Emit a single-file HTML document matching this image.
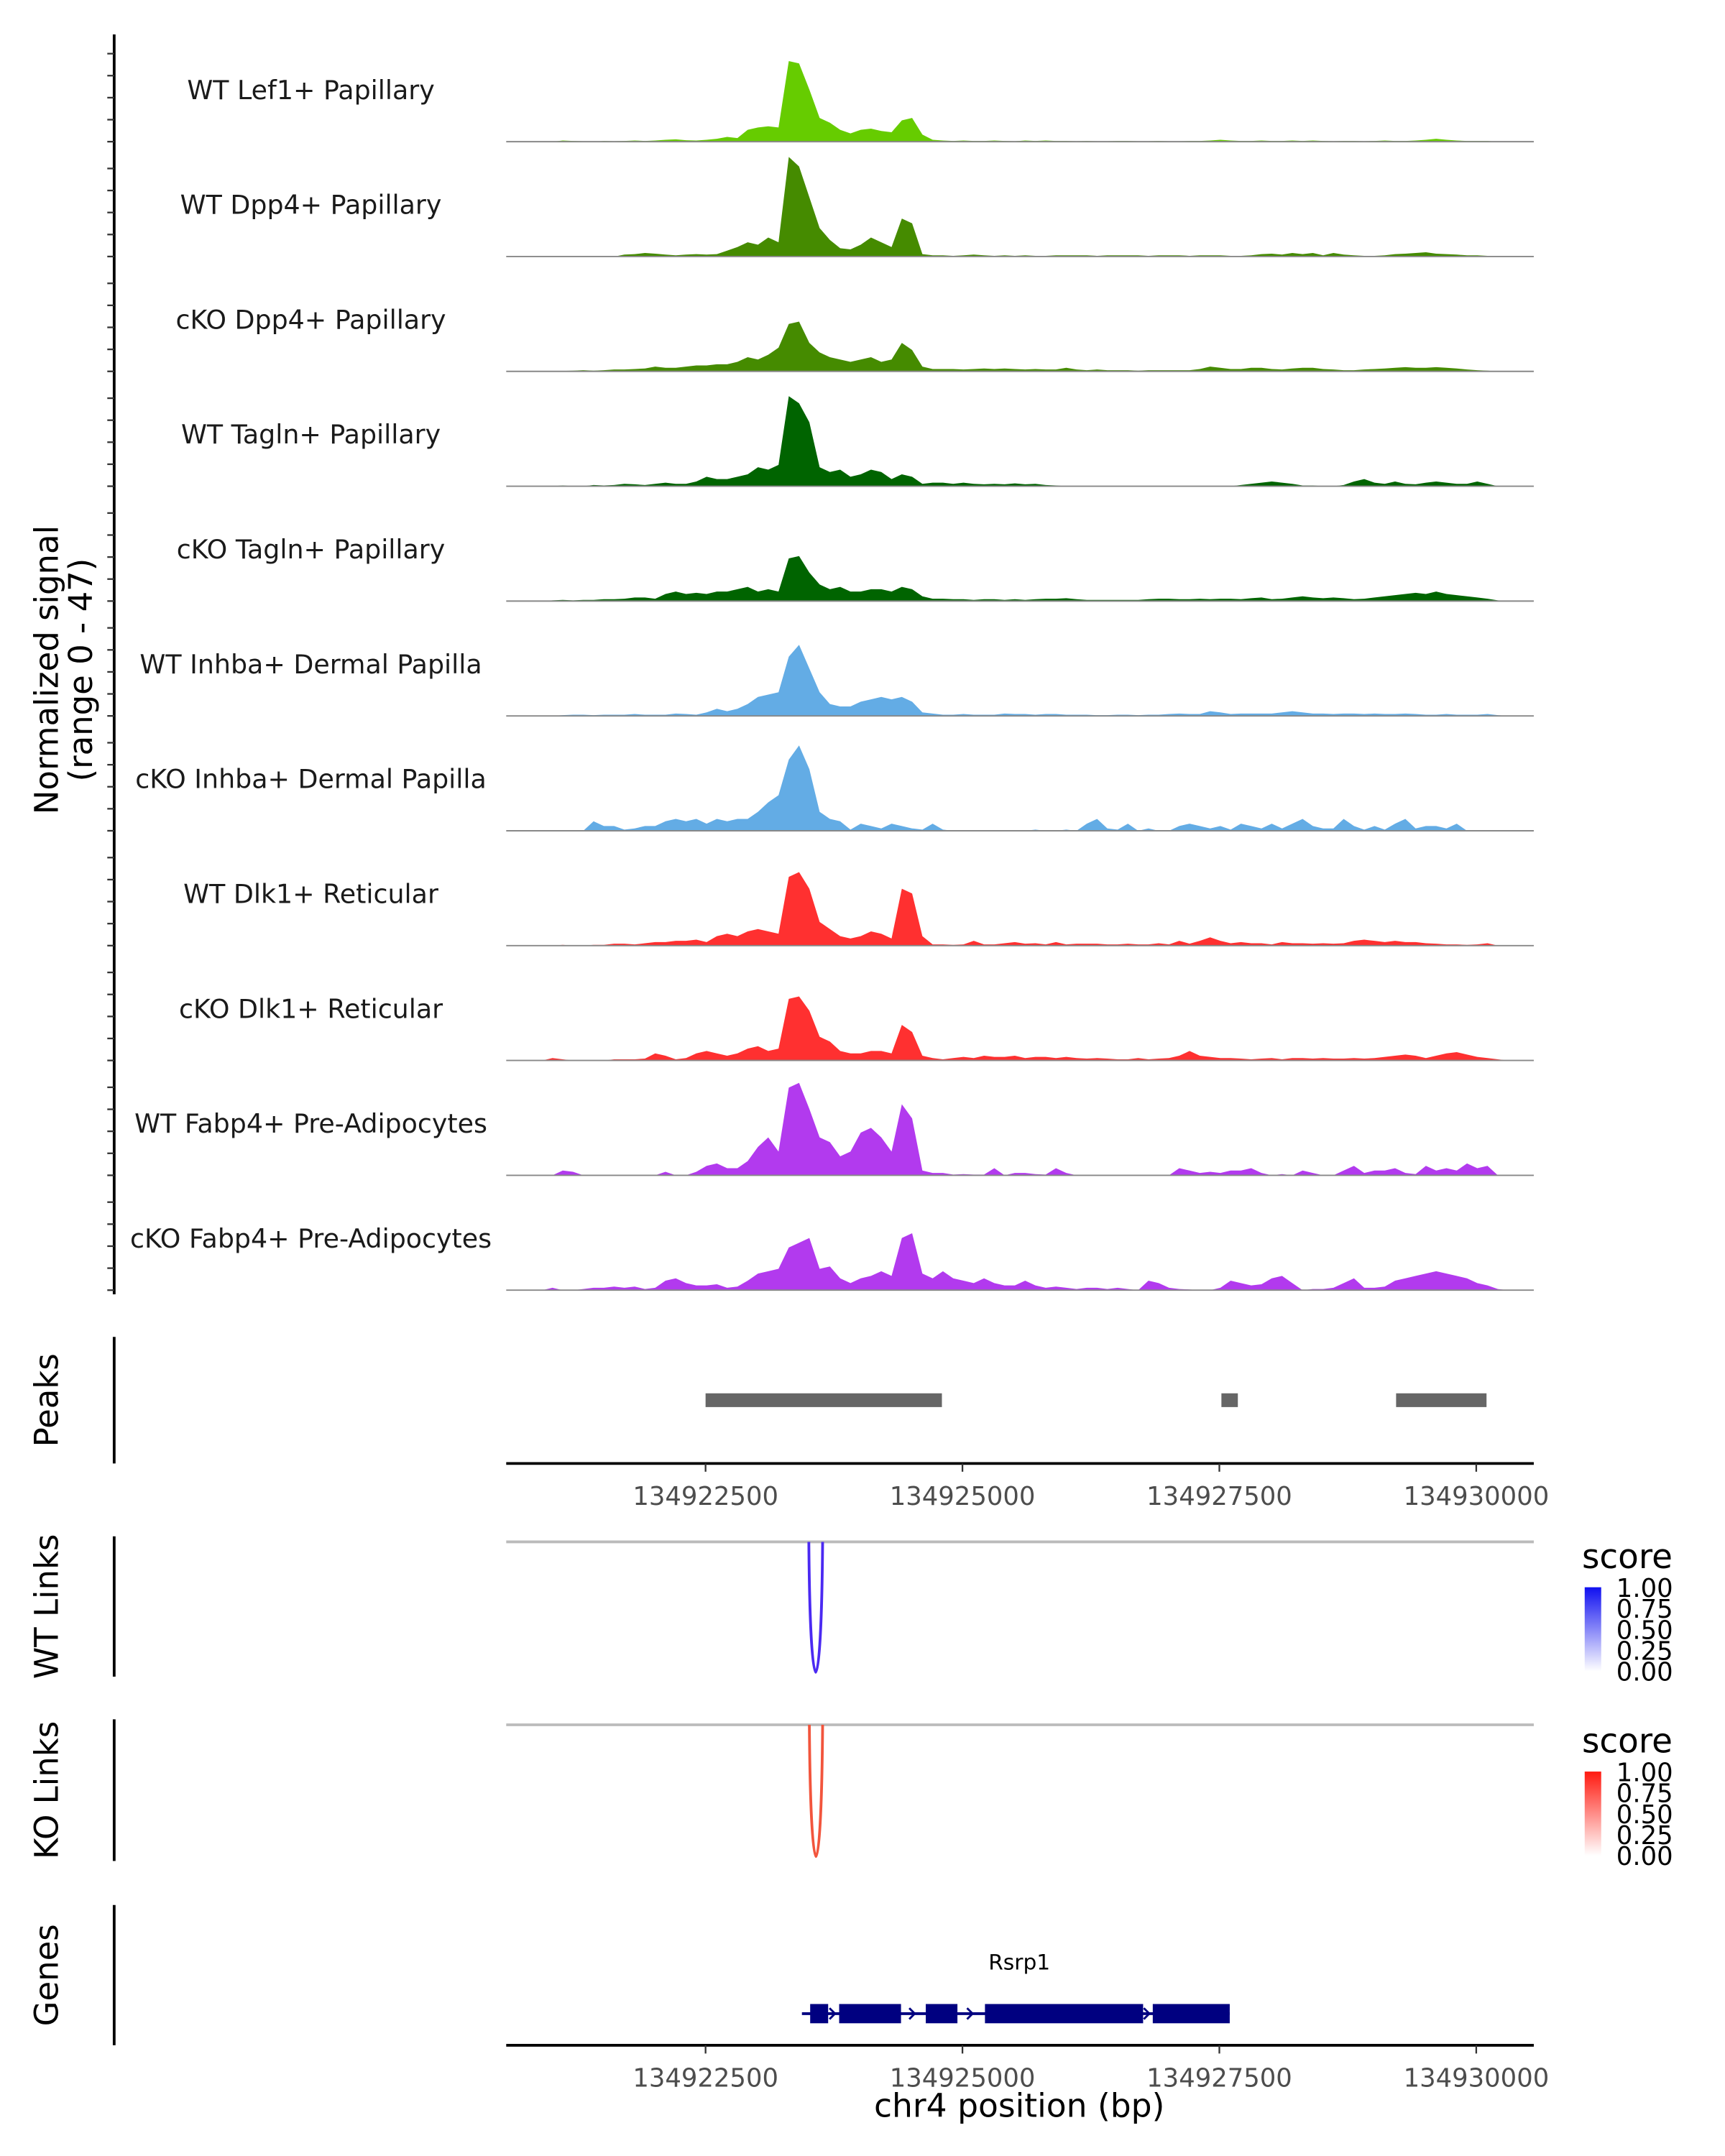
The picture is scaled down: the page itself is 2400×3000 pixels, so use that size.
<!DOCTYPE html>
<html><head><meta charset="utf-8"><style>
html,body{margin:0;padding:0;background:#fff;}
svg{display:block;font-family:"DejaVu Sans","Liberation Sans",sans-serif;}
</style></head><body>
<svg id="chart" width="2400" height="3000" viewBox="0 0 1254 1567.5" preserveAspectRatio="none" xmlns="http://www.w3.org/2000/svg">
<defs>
<linearGradient id="gBlue" x1="0" y1="1" x2="0" y2="0"><stop offset="0" stop-color="#ffffff"/><stop offset="1" stop-color="#1010f0"/></linearGradient>
<linearGradient id="gRed" x1="0" y1="1" x2="0" y2="0"><stop offset="0" stop-color="#ffffff"/><stop offset="1" stop-color="#ff1a10"/></linearGradient>
</defs>
<g id="tracks"></g>
<g id="rest"></g>
</svg>
<script>
const trackNames = ["WT Lef1+ Papillary","WT Dpp4+ Papillary","cKO Dpp4+ Papillary","WT Tagln+ Papillary","cKO Tagln+ Papillary","WT Inhba+ Dermal Papilla","cKO Inhba+ Dermal Papilla","WT Dlk1+ Reticular","cKO Dlk1+ Reticular","WT Fabp4+ Pre-Adipocytes","cKO Fabp4+ Pre-Adipocytes"];
const trackColors = ["#66cc00","#458b00","#458b00","#006400","#006400","#63ace5","#63ace5","#ff3030","#ff3030","#b23aee","#b23aee"];
const regionStart = 134920560, regionEnd = 134930560, binSize = 100;
const yMax = 47;
const xTicks = [134922500,134925000,134927500,134930000];
const peaks = [[134922500,134924800],[134927520,134927680],[134929220,134930100]];
const exons = [[134923518,134923693],[134923800,134924402],[134924643,134924951],[134925219,134926758],[134926852,134927601]];
const wtLink = [134923505, 134923639, 1.0];
const koLink = [134923510, 134923639, 0.9];
const legendTicks = ["1.00","0.75","0.50","0.25","0.00"];

const t1=[0,0,0,0,0,0.5,0.3,0.2,0,0.3,0.2,0.3,0.5,0.3,0.5,0.8,1,0.6,0.5,0.8,1.2,2,1.5,5,6,6.5,6,34,33,22,10,8,5,3.5,5,5.5,4.5,4,9,10,3,0.8,0.5,0.3,0.5,0.3,0.3,0.5,0.3,0.2,0.5,0.3,0.5,0.3,0.3,0.2,0.3,0.2,0.2,0.3,0.3,0.2,0.2,0.3,0.2,0.2,0.3,0.3,0.5,0.8,0.5,0.3,0.3,0.5,0.3,0.3,0.5,0.3,0.5,0.3,0.2,0.3,0.3,0.2,0.3,0.5,0.3,0.3,0.5,0.8,1.2,0.8,0.5,0.3,0.3,0.3,0,0,0,0];
const t2=[0,0,0,0,0,0,0,0,0,0,0,0.8,1,1.5,1.2,0.8,0.5,0.8,1,0.8,1,2.5,4,6,5,8,6,42,38,25,12,7,3.5,3,5,8,6,4,16,14,1,0.5,0.5,0.3,0.5,0.8,0.5,0.3,0.5,0.3,0.5,0.3,0.3,0.5,0.5,0.5,0.5,0.3,0.5,0.5,0.5,0.5,0.3,0.5,0.5,0.5,0.3,0.5,0.5,0.5,0.3,0.3,0.5,1,1.2,0.8,1.5,1,1.5,0.5,1.5,0.8,0.5,0.3,0.3,0.5,1,1.2,1.5,1.8,1.2,1,0.8,0.5,0.5,0.3,0,0,0,0];
const t3=[0,0,0,0,0,0.2,0.3,0.5,0.3,0.5,0.8,0.8,1,1.2,2,1.5,1.5,2,2.5,2.5,3,3,4,6,5,7,10,20,21,12,8,6,5,4,5,6,4,5,12,9,2,1,1,1,0.8,1,1.2,1,1.2,1,0.8,1,0.8,0.8,1.5,0.8,0.5,0.8,0.5,0.5,0.5,0.3,0.5,0.5,0.5,0.5,0.5,1,2,1.5,1,1,1.5,1.5,1,0.8,1.2,1.5,1.5,1,0.8,0.5,0.5,0.8,1,1.2,1.5,1.8,1.5,1.5,1.8,1.5,1.2,0.8,0.5,0.3,0,0,0,0];
const t4=[0,0,0,0,0,0.3,0,0,0.5,0.3,0.5,1,0.8,0.5,1,1.5,1,1,2,4,3,3,4,5,8,7,9,38,35,27,8,6,7,4,5,7,6,3,5,4,1,1.5,1.5,1,1.5,1,0.8,1,0.8,1.2,0.8,1,0.5,0.3,0,0,0,0,0,0,0,0,0,0,0,0,0,0,0,0,0,0.5,1,1.5,2,1.5,1,0.3,0.3,0,0,0.5,2,3,1.5,1,2,1,0.8,1.5,2,1.5,1,1,2,1,0,0,0,0];
const t5=[0,0,0,0,0.3,0.5,0.3,0.5,0.5,0.8,0.8,1,1.5,1.5,1,3,4,3,3.5,3,4,4,5,6,4,5,4,18,19,12,7,5,6,4,4,5,5,4,6,5,2,1,1,0.8,0.8,0.5,0.8,0.8,0.5,0.8,0.5,0.8,1,1,1.2,0.8,0.5,0.5,0.5,0.5,0.5,0.5,0.8,1,1,0.8,0.8,1,0.8,1,1,0.8,1.2,1.5,0.8,1,1.5,2,1.5,1.2,1.5,1.2,0.8,1,1.5,2,2.5,3,3.5,3,4,3,2.5,2,1.5,1,0.3,0,0,0];
const t6=[0,0,0,0,0,0.3,0.5,0.5,0.3,0.5,0.5,0.5,0.8,0.5,0.5,0.5,1,0.8,0.5,1.5,3,2,3,5,8,9,10,25,30,20,10,5,4,4,6,7,8,7,8,6,1.5,1,0.5,0.5,0.8,0.5,0.5,0.5,1,0.8,0.8,0.5,0.8,0.8,0.5,0.5,0.5,0.3,0.3,0.5,0.5,0.3,0.5,0.5,0.8,1,0.8,0.8,2,1.5,0.8,1,1,1,1,1.5,2,1.5,1,1,0.8,1,1,0.8,1,0.8,0.8,1,0.8,0.5,0.5,0.8,0.5,0.5,0.5,0.8,0.3,0,0,0];
const t7=[0,0,0,0,0,0,0,0,4,2,2,0.5,1,2,2,4,5,4,5,3,5,4,5,5,8,12,15,30,36,26,8,5,4,0.5,3,2,1,3,2,1,0.5,3,0.5,0,0,0,0,0,0,0,0,0.5,0,0,0.5,0,3,5,1,0.5,3,0,1,0,0,2,3,2,1,2,0.5,3,2,1,3,1,3,5,2,1,1,5,2,0.5,2,0.5,3,5,1,2,2,1,3,0,0,0,0,0,0,0];
const t8=[0,0,0,0,0,0.3,0,0,0.3,0.3,0.8,0.8,0.5,1,1.5,1.5,2,2,2.5,1.5,4,5,4,6,7,6,5,29,31,24,10,7,4,3,4,6,5,3,24,22,4,0.5,0.5,0.3,0.5,2,0.5,0.5,1,1.5,0.8,1,0.5,1.5,0.5,0.8,0.8,0.8,0.5,0.5,0.8,0.5,0.5,1,0.5,2,0.8,2,3.5,2,1,1.5,1,1,0.5,1.5,1,1,0.8,1,0.8,1,2,2.5,2,1.5,2,1.5,1.5,1,0.8,0.5,0.5,0.3,0.5,1,0,0,0,0];
const t9=[0,0,0,0,1,0.5,0,0,0,0,0.5,0.5,0.5,0.8,3,2,0.5,1,3,4,3,2,3,5,6,4,5,26,27,21,10,8,4,3,3,4,4,3,15,12,2,1,0.5,1,1.5,1,2,1.5,1.5,2,1,1.5,1.5,1,1.5,1,0.8,1,0.8,0.5,0.5,1,0.5,0.8,1,2,4,2,1.5,1,1,0.8,0.5,0.8,1,0.5,1,1,0.8,1,0.8,0.8,1,0.8,1,1.5,2,2.5,2,1,2,3,3.5,2.5,1.5,1,0.5,0,0,0];
const t10=[0,0,0,0,0,2,1.5,0,0,0,0,0,0,0,0,1.5,0,0,1.5,4,5,3,3,6,12,16,10,37,39,28,16,14,8,10,18,20,16,10,30,24,2,1,1,0.3,0.5,0.3,0.3,3,0,1,1,0.5,0.3,3,1,0,0,0,0,0,0,0,0,0,0,3,2,1,1.5,1,2,2,3,1,0,0.5,0,2,1,0,0,2,4,1,2,2,3,1,0.5,4,2,3,2,5,3,4,0,0,0,0];
const t11=[0,0,0,0,1,0,0,0.5,1,1,1.5,1,1.5,0.5,1,4,5,3,2,2,2.5,1,1.5,4,7,8,9,18,20,22,9,10,5,3,5,6,8,6,22,24,7,5,8,5,4,3,5,3,2,2,4,2,1,1.5,1,0.5,1,1,0.5,1,0.5,0,4,3,1,0.5,0.3,0,0,1,4,3,2,2.5,5,6,3,0,0.5,0.5,1,3,5,1,1,1.5,4,5,6,7,8,7,6,5,3,2,0.5,0,0,0];
const trackValues=[t1,t2,t3,t4,t5,t6,t7,t8,t9,t10,t11];

const NS="http://www.w3.org/2000/svg";
function mk(tag, attrs, parent){const e=document.createElementNS(NS,tag);for(const k in attrs)e.setAttribute(k,attrs[k]);parent.appendChild(e);return e;}
const X0=368, X1=1115;
function xScale(bp){return X0+(bp-regionStart)/(regionEnd-regionStart)*(X1-X0);}
const trackH=83.5, firstBase=103;
function yScale(v,base){return base - v/yMax*81;}

const G=document.getElementById('tracks');
const R=document.getElementById('rest');

let ax=mk('line',{x1:83,y1:25,x2:83,y2:941,stroke:'#000','stroke-width':2},G);


for(let i=0;i<trackNames.length;i++){
  const base=firstBase+i*trackH;
  for(let k=0;k<5;k++){
    const t=mk('line',{x1:78,x2:83,y1:base-k*16,y2:base-k*16,stroke:'#333','stroke-width':1.2},G);
    
    
  }
  const vals=trackValues[i];
  let d='M'+xScale(regionStart)+' '+base;
  for(let j=0;j<vals.length;j++){
    const bp=regionStart+(j+0.5)*binSize;
    d+=' L'+xScale(bp).toFixed(2)+' '+yScale(vals[j],base).toFixed(2);
  }
  d+=' L'+xScale(regionEnd)+' '+base+' Z';
  const p=mk('path',{d:d,fill:trackColors[i],stroke:'none'},G);
  
  
  const bl=mk('line',{x1:X0,x2:X1,y1:base,y2:base,stroke:'#888','stroke-width':1},G);
  
  
  const lb=mk('text',{x:226,y:base-31,'text-anchor':'middle','font-size':19,fill:'#1a1a1a'},G);
  lb.textContent=trackNames[i];
  
  
}
const yt=mk('text',{transform:'translate(42,487) rotate(-90)','text-anchor':'middle','font-size':23.5,fill:'#000'},G);
yt.textContent='Normalized signal';


const yt2=mk('text',{transform:'translate(67,487) rotate(-90)','text-anchor':'middle','font-size':23.5,fill:'#000'},G);
yt2.textContent='(range 0 - 47)';



function sideAxis(y1,y2,label,name){
  const l=mk('line',{x1:83,x2:83,y1:y1,y2:y2,stroke:'#000','stroke-width':2},R);
  
  
  const t=mk('text',{transform:'translate(42,'+((y1+y2)/2)+') rotate(-90)','text-anchor':'middle','font-size':23.5,fill:'#000'},R);
  t.textContent=label;
  
  
}
function xAxis(y,name){
  const l=mk('line',{x1:X0,x2:X1,y1:y,y2:y,stroke:'#000','stroke-width':2},R);
  
  
  xTicks.forEach(v=>{
    const x=xScale(v);
    const t=mk('line',{x1:x,x2:x,y1:y,y2:y+6,stroke:'#333','stroke-width':1.2},R);
    
    
    const tl=mk('text',{x:x,y:y+30,'text-anchor':'middle','font-size':18.5,fill:'#4d4d4d'},R);
    tl.textContent=String(v);
    
    
  });
}

sideAxis(972,1064,'Peaks','peaks');
peaks.forEach(pk=>{
  const r=mk('rect',{x:xScale(pk[0]),y:1013,width:xScale(pk[1])-xScale(pk[0]),height:10,fill:'#666'},R);
  
  
});
xAxis(1064,'peaks-x-axis');

function links(top,bot,link,color,grad,label,name,legY){
  sideAxis(top-4,bot+3,label,name);
  const gl=mk('line',{x1:X0,x2:X1,y1:top,y2:top,stroke:'#bbb','stroke-width':2},R);
  
  
  const xa=xScale(link[0]), xb=xScale(link[1]);
  const depth=(bot-top)*1.33;
  const a=mk('path',{d:'M'+xa+' '+top+' C'+(xa+1)+' '+(top+depth)+' '+(xb-1)+' '+(top+depth)+' '+xb+' '+top,fill:'none',stroke:color,'stroke-width':2},R);
  
  
  const st=mk('text',{x:1150,y:legY,'font-size':24.5,fill:'#000'},R);
  st.textContent='score';
  
  
  const cb=mk('rect',{x:1152,y:legY+14,width:12,height:61,fill:'url(#'+grad+')'},R);
  
  
  legendTicks.forEach((t,i)=>{
    const yy=legY+14+i*15.25;
    const tk=mk('text',{x:1175,y:yy+7,'font-size':18.5,fill:'#000'},R);
    tk.textContent=t;
    
    
  });
}
links(1121,1216,wtLink,'#4b2af2','gBlue','WT Links','wt-links',1140);
links(1254,1350,koLink,'#f2553d','gRed','KO Links','ko-links',1274);

sideAxis(1385,1487,'Genes','genes');
const gy=1464;
const gs=xScale(exons[0][0])-6, ge=xScale(exons[exons.length-1][1]);
const intr=mk('line',{x1:gs,x2:ge,y1:gy,y2:gy,stroke:'#000080','stroke-width':2},R);


exons.forEach(e=>{
  const r=mk('rect',{x:xScale(e[0]),y:gy-7,width:xScale(e[1])-xScale(e[0]),height:14,fill:'#000080'},R);
  
  
});
for(let i=0;i<exons.length-1;i++){
  const x=(xScale(exons[i][1])+xScale(exons[i+1][0]))/2;
  const ar=mk('path',{d:'M'+(x-3)+' '+(gy-4)+' L'+(x+1)+' '+gy+' L'+(x-3)+' '+(gy+4),fill:'none',stroke:'#000080','stroke-width':1.5},R);
  
  
}
const gn=mk('text',{x:741,y:1432,'text-anchor':'middle','font-size':15.5,fill:'#000'},R);
gn.textContent='Rsrp1';


xAxis(1487,'genes-x-axis');
const xt=mk('text',{x:741,y:1539,'text-anchor':'middle','font-size':23.8,fill:'#000'},R);
xt.textContent='chr4 position (bp)';


</script>
</body></html>
